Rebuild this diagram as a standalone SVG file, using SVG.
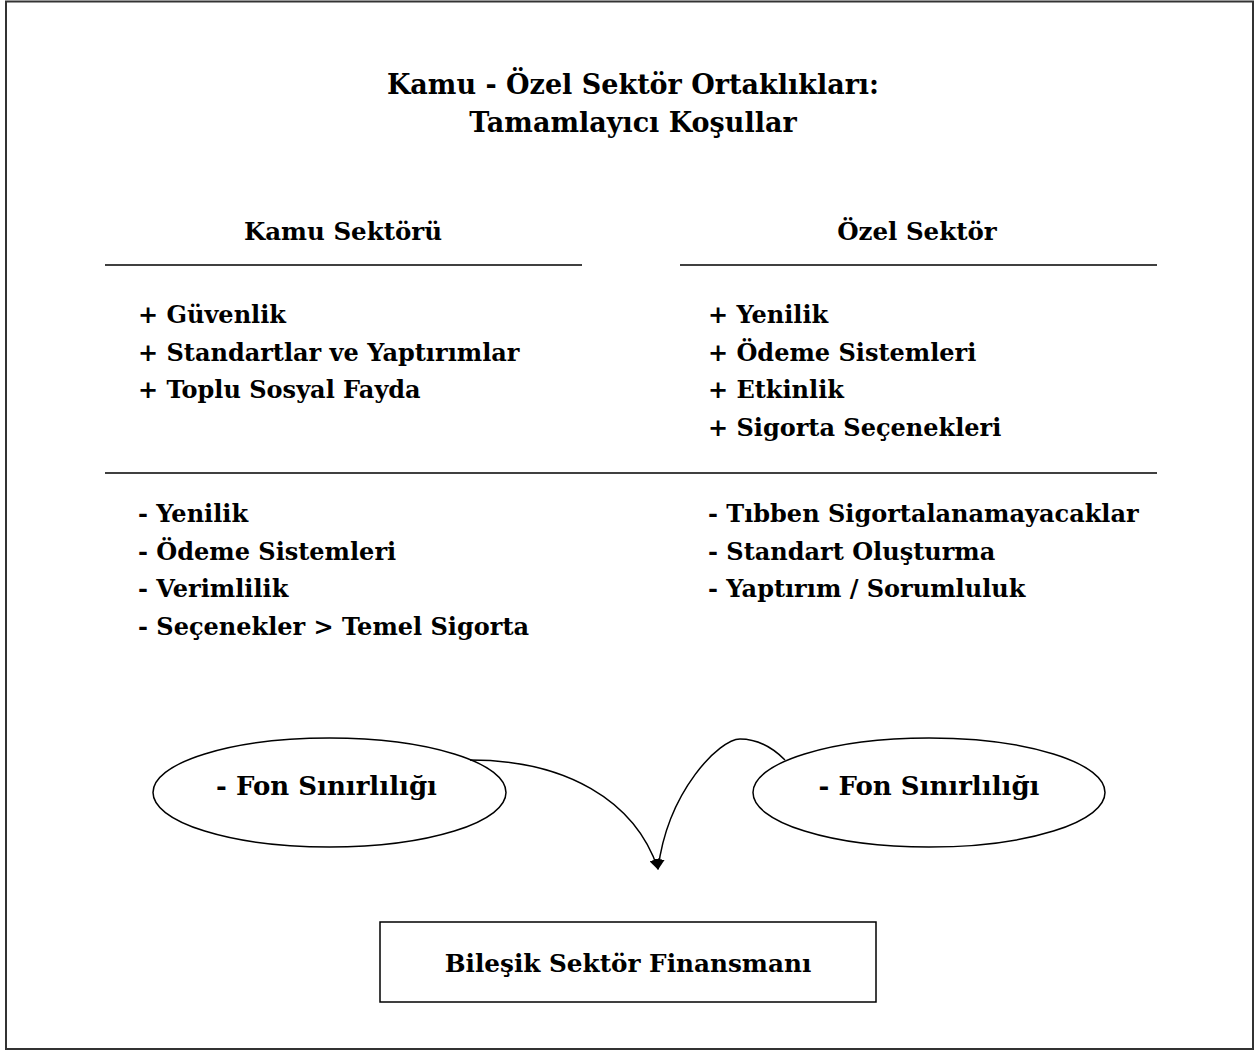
<svg xmlns="http://www.w3.org/2000/svg" width="1256" height="1051" viewBox="0 0 1256 1051">
<defs>
<style>
.t{font-family:"DejaVu Serif","Liberation Serif",serif;font-weight:bold;fill:#000;}
.title{font-size:27px;text-anchor:middle;}
.head{font-size:24.5px;text-anchor:middle;}
.item{font-size:24px;}
.lbl{font-size:24.7px;text-anchor:middle;}
.fon{font-size:26px;text-anchor:middle;}
.rule{stroke:#000;stroke-width:1.5;}
.shape{fill:#fff;stroke:#000;stroke-width:1.5;}
.conn{fill:none;stroke:#000;stroke-width:1.5;}
</style>
<marker id="arr" viewBox="0 0 10 10" refX="9" refY="5" markerWidth="11" markerHeight="11" markerUnits="userSpaceOnUse" orient="auto">
<path d="M0,0 L10,5 L0,10 z" fill="#000"/>
</marker>
</defs>
<rect x="0" y="0" width="1256" height="1051" fill="#fff"/>
<rect x="6" y="1.5" width="1247" height="1047.5" fill="none" stroke="#333" stroke-width="2"/>

<g id="title">
<text class="t title" x="633" y="94">Kamu - Özel Sektör Ortaklıkları:</text>
<text class="t title" x="633" y="132">Tamamlayıcı Koşullar</text>
</g>

<g id="public-header">
<text class="t head" x="343" y="240">Kamu Sektörü</text>
</g>
<g id="private-header">
<text class="t head" x="917" y="240">Özel Sektör</text>
</g>

<g id="rules">
<line class="rule" x1="105" y1="265" x2="582" y2="265"/>
<line class="rule" x1="680" y1="265" x2="1157" y2="265"/>
<line class="rule" x1="105" y1="473" x2="1157" y2="473"/>
</g>

<g id="public-plus">
<text class="t item" x="138" y="323">+ Güvenlik</text>
<text class="t item" x="138" y="360.5">+ Standartlar ve Yaptırımlar</text>
<text class="t item" x="138" y="398">+ Toplu Sosyal Fayda</text>
</g>
<g id="private-plus">
<text class="t item" x="708" y="323">+ Yenilik</text>
<text class="t item" x="708" y="360.5">+ Ödeme Sistemleri</text>
<text class="t item" x="708" y="398">+ Etkinlik</text>
<text class="t item" x="708" y="435.5">+ Sigorta Seçenekleri</text>
</g>
<g id="public-minus">
<text class="t item" x="138" y="522">- Yenilik</text>
<text class="t item" x="138" y="559.5">- Ödeme Sistemleri</text>
<text class="t item" x="138" y="597">- Verimlilik</text>
<text class="t item" x="138" y="634.5">- Seçenekler &gt; Temel Sigorta</text>
</g>
<g id="private-minus">
<text class="t item" x="708" y="522">- Tıbben Sigortalanamayacaklar</text>
<text class="t item" x="708" y="559.5">- Standart Oluşturma</text>
<text class="t item" x="708" y="597">- Yaptırım / Sorumluluk</text>
</g>

<g id="fund-left">
<ellipse class="shape" cx="329.5" cy="792.5" rx="176.5" ry="54.5"/>
<text class="t fon" x="326.5" y="795">- Fon Sınırlılığı</text>
</g>
<g id="fund-right">
<ellipse class="shape" cx="929" cy="792.5" rx="176" ry="54.5"/>
<text class="t fon" x="929" y="795">- Fon Sınırlılığı</text>
</g>

<g id="connectors">
<path class="conn" d="M470,760 C565,760 635,800 658,869" marker-end="url(#arr)"/>
<path class="conn" d="M785,760 C770,745 755,739 740,739 C720,739 668,790 658,869" marker-end="url(#arr)"/>
</g>

<g id="combined">
<rect class="shape" x="380" y="922" width="496" height="80"/>
<text class="t lbl" x="628" y="972">Bileşik Sektör Finansmanı</text>
</g>
</svg>
